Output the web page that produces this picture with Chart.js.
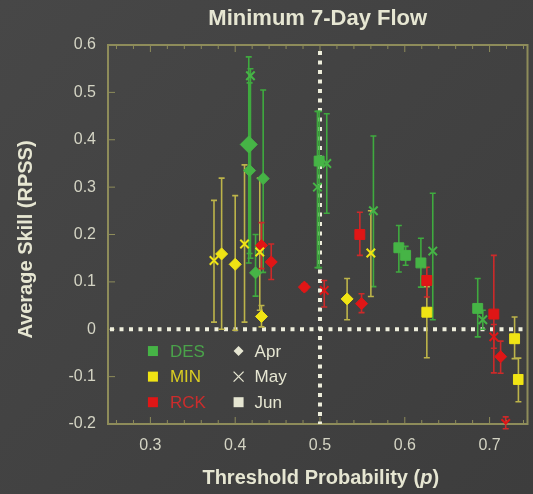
<!DOCTYPE html>
<html>
<head>
<meta charset="utf-8">
<script src="https://cdn.jsdelivr.net/npm/chart.js@4.4.1/dist/chart.umd.min.js"></script>
<style>
html, body { margin: 0; padding: 0; background: #424242; }
canvas { display: block; }
</style>
</head>
<body>
<canvas id="skillChart" width="533" height="494"></canvas>
<script>
// Ticks
const xTicks = [0.3, 0.4, 0.5, 0.6, 0.7];
const yTicks = [-0.2, -0.1, 0, 0.1, 0.2, 0.3, 0.4, 0.5, 0.6];

// Sites and months (legend)
const sites = ['DES', 'MIN', 'RCK'];
const months = ['Apr', 'May', 'Jun'];

// Points: [threshold p, RPSS, low, high]
const desApr = [[0.416, 0.39, 0.14, 0.575], [0.417, 0.335, 0.16, 0.52], [0.433, 0.318, 0.12, 0.505], [0.424, 0.119, 0.07, 0.2]];
const desMay = [[0.418, 0.535, 0.15, 0.55], [0.497, 0.30, 0.13, 0.46], [0.508, 0.35, 0.245, 0.455], [0.563, 0.25, 0.09, 0.408], [0.633, 0.165, 0.02, 0.287], [0.692, 0.02, 0.0, 0.04]];
const desJun = [[0.499, 0.355, 0.13, 0.46], [0.593, 0.172, 0.121, 0.219], [0.601, 0.156, 0.135, 0.175], [0.619, 0.14, 0.089, 0.192], [0.686, 0.044, -0.016, 0.107]];
const minApr = [[0.384, 0.159, 0.0, 0.319], [0.400, 0.137, -0.002, 0.282], [0.431, 0.027, 0.005, 0.05], [0.532, 0.064, 0.02, 0.107]];
const minMay = [[0.375, 0.145, 0.015, 0.272], [0.411, 0.18, 0.015, 0.347], [0.429, 0.163, 0.04, 0.319], [0.560, 0.161, 0.069, 0.25]];
const minJun = [[0.626, 0.036, -0.06, 0.09], [0.7295, -0.02, -0.062, 0.026], [0.734, -0.106, -0.153, -0.061]];
const rckApr = [[0.431, 0.177, 0.128, 0.225], [0.4425, 0.142, 0.105, 0.18], [0.4816, 0.089, 0.082, 0.096], [0.549, 0.054, 0.035, 0.075], [0.713, -0.058, -0.093, -0.025]];
const rckMay = [[0.505, 0.082, 0.047, 0.103], [0.705, -0.016, -0.04, 0.01], [0.719, -0.199, -0.21, -0.185]];
const rckJun = [[0.547, 0.2, 0.156, 0.247], [0.626, 0.103, 0.068, 0.131], [0.705, 0.032, -0.092, 0.156]];

const siteColor = { DES: '#46b446', MIN: '#f0e414', RCK: '#e01616' };
const barColor = { DES: '#3faa3f', MIN: '#bdb44a', RCK: '#cc2a2a' };
const labelColor = { DES: '#4aa24a', MIN: '#dacd22', RCK: '#cc2c2c' };
const monthStyle = { Apr: 'rectRot', May: 'crossRot', Jun: 'rect' };
const monthRadius = { Apr: 6, May: 6, Jun: 7 };
const textColor = '#e6e6d2';
const frameColor = '#8e8c5a';

const series = [
    ['DES', 'Apr', desApr], ['DES', 'May', desMay], ['DES', 'Jun', desJun],
    ['MIN', 'Apr', minApr], ['MIN', 'May', minMay], ['MIN', 'Jun', minJun],
    ['RCK', 'Apr', rckApr], ['RCK', 'May', rckMay], ['RCK', 'Jun', rckJun]
];

const datasets = series.map(([site, month, pts]) => ({
    label: site + ' ' + month,
    data: pts.map(p => ({ x: p[0], y: p[1] })),
    err: pts.map(p => [p[2], p[3]]),
    barColor: barColor[site],
    pointStyle: monthStyle[month],
    // the first DES April marker is drawn larger in the figure
    pointRadius: pts.map((p, i) => (site === 'DES' && month === 'Apr' && i === 0) ? 8.5 : monthRadius[month]),
    backgroundColor: siteColor[site],
    borderColor: siteColor[site],
    borderWidth: month === 'May' ? 2 : 1
}));

const font = '"Liberation Sans", Arial, sans-serif';

const decor = {
    id: 'decor',
    beforeDraw(chart) {
        const ctx = chart.ctx;
        const g = ctx.createLinearGradient(0, 0, chart.width, chart.height);
        g.addColorStop(0, '#474747');
        g.addColorStop(1, '#3d3d3d');
        ctx.save();
        ctx.fillStyle = g;
        ctx.fillRect(0, 0, chart.width, chart.height);
        ctx.restore();
    },
    beforeDatasetsDraw(chart) {
        const ctx = chart.ctx;
        const a = chart.chartArea;
        const xs = chart.scales.x, ys = chart.scales.y;
        ctx.save();
        // frame
        ctx.strokeStyle = frameColor;
        ctx.lineWidth = 2;
        ctx.strokeRect(a.left, a.top, a.right - a.left + 4, a.bottom - a.top);
        ctx.lineWidth = 1;
        ctx.beginPath();
        yTicks.forEach(v => {
            const y = ys.getPixelForValue(v);
            ctx.moveTo(a.left, y); ctx.lineTo(a.left + 7, y);
        });
        for (let v = 0.26; v < 0.745; v += 0.02) {
            const x = xs.getPixelForValue(v);
            const major = Math.abs(v * 10 - Math.round(v * 10)) < 0.01;
            const len = major ? 7 : 4;
            ctx.moveTo(x, a.bottom); ctx.lineTo(x, a.bottom - len);
            ctx.moveTo(x, a.top); ctx.lineTo(x, a.top + len);
        }
        ctx.stroke();

        // dotted reference lines
        ctx.strokeStyle = '#eeeedc';
        ctx.lineWidth = 4;
        ctx.setLineDash([4, 5.5]);
        ctx.beginPath();
        const y0 = ys.getPixelForValue(0);
        ctx.moveTo(a.left + 2, y0); ctx.lineTo(a.right, y0);
        const x5 = xs.getPixelForValue(0.5);
        ctx.moveTo(x5, a.top + 6); ctx.lineTo(x5, a.bottom);
        ctx.stroke();
        ctx.setLineDash([]);

        // error bars
        chart.data.datasets.forEach(ds => {
            ctx.strokeStyle = ds.barColor;
            ctx.lineWidth = 1.6;
            ctx.beginPath();
            ds.data.forEach((pt, i) => {
                const x = xs.getPixelForValue(pt.x);
                const lo = ys.getPixelForValue(ds.err[i][0]);
                const hi = ys.getPixelForValue(ds.err[i][1]);
                ctx.moveTo(x, lo); ctx.lineTo(x, hi);
                ctx.moveTo(x - 3, lo); ctx.lineTo(x + 3, lo);
                ctx.moveTo(x - 3, hi); ctx.lineTo(x + 3, hi);
            });
            ctx.stroke();
        });
        ctx.restore();
    },
    afterDatasetsDraw(chart) {
        const ctx = chart.ctx;
        const a = chart.chartArea;
        const xs = chart.scales.x, ys = chart.scales.y;
        ctx.save();
        ctx.fillStyle = textColor;
        ctx.textBaseline = 'middle';

        // title
        ctx.font = 'bold 22px ' + font;
        ctx.textAlign = 'center';
        ctx.fillText('Minimum 7-Day Flow', (a.left + a.right) / 2 + 2, 19);

        // x title with italic p
        const parts = [['Threshold Probability (', 'bold'], ['p', 'italic bold'], [')', 'bold']];
        let total = 0;
        parts.forEach(p => { ctx.font = p[1] + ' 20px ' + font; total += ctx.measureText(p[0]).width; });
        let tx = (a.left + a.right) / 2 + 5 - total / 2;
        ctx.textAlign = 'left';
        parts.forEach(p => {
            ctx.font = p[1] + ' 20px ' + font;
            ctx.fillText(p[0], tx, 478);
            tx += ctx.measureText(p[0]).width;
        });

        // y title
        ctx.save();
        ctx.translate(26, (a.top + a.bottom) / 2 + 5);
        ctx.rotate(-Math.PI / 2);
        ctx.textAlign = 'center';
        ctx.font = 'bold 20px ' + font;
        ctx.fillText('Average Skill (RPSS)', 0, 0);
        ctx.restore();

        // legend
        const rows = [-0.046, -0.1, -0.154];
        const c1 = xs.getPixelForValue(0.303), c2 = xs.getPixelForValue(0.404);
        ctx.font = '17px ' + font;
        ctx.textAlign = 'left';
        sites.forEach((s, i) => {
            const y = ys.getPixelForValue(rows[i]);
            ctx.fillStyle = siteColor[s];
            ctx.fillRect(c1 - 5, y - 5, 10, 10);
            ctx.fillStyle = labelColor[s];
            ctx.fillText(s, c1 + 17, y + 1);
        });
        months.forEach((m, i) => {
            const y = ys.getPixelForValue(rows[i]);
            ctx.fillStyle = textColor;
            ctx.strokeStyle = textColor;
            if (m === 'Apr') {
                ctx.beginPath();
                ctx.moveTo(c2, y - 5); ctx.lineTo(c2 + 5, y); ctx.lineTo(c2, y + 5); ctx.lineTo(c2 - 5, y);
                ctx.closePath(); ctx.fill();
            } else if (m === 'May') {
                ctx.lineWidth = 1.3;
                ctx.beginPath();
                ctx.moveTo(c2 - 5, y - 5); ctx.lineTo(c2 + 5, y + 5);
                ctx.moveTo(c2 + 5, y - 5); ctx.lineTo(c2 - 5, y + 5);
                ctx.stroke();
            } else {
                ctx.fillRect(c2 - 5, y - 5, 10, 10);
            }
            ctx.fillText(m, c2 + 16, y + 1);
        });
        ctx.restore();
    }
};

new Chart(document.getElementById('skillChart'), {
    type: 'scatter',
    data: { datasets: datasets },
    options: {
        responsive: false,
        animation: false,
        layout: { padding: { top: 45, right: 0, left: 0, bottom: 0 } },
        plugins: { legend: { display: false }, tooltip: { enabled: false } },
        scales: {
            x: {
                min: 0.25, max: 0.74,
                grid: { display: false, drawTicks: false },
                border: { display: false },
                afterBuildTicks: s => { s.ticks = xTicks.map(v => ({ value: v })); },
                afterFit: s => { s.height = 70; },
                ticks: { color: '#d4d4c4', font: { size: 16, family: font }, padding: 12, maxRotation: 0,
                         callback: v => String(+v.toFixed(1)) }
            },
            y: {
                min: -0.2, max: 0.6,
                grid: { display: false, drawTicks: false },
                border: { display: false },
                afterBuildTicks: s => { s.ticks = yTicks.map(v => ({ value: v })); },
                afterFit: s => { s.width = 108; },
                ticks: { color: '#d4d4c4', font: { size: 16, family: font }, padding: 12,
                         callback: v => String(+v.toFixed(1)) }
            }
        }
    },
    plugins: [decor]
});
</script>
</body>
</html>
